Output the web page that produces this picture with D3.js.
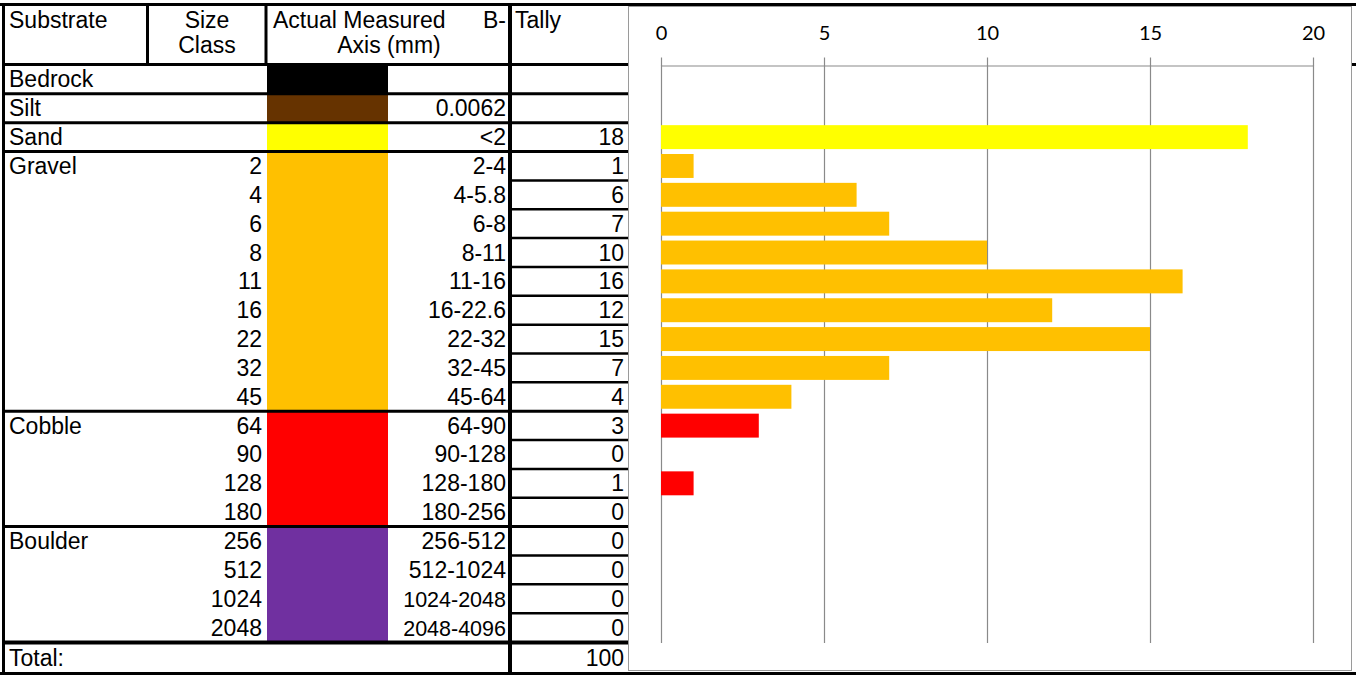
<!DOCTYPE html>
<html>
<head>
<meta charset="utf-8">
<script src="https://cdn.jsdelivr.net/npm/d3@7"></script>
<style>
  html, body { margin: 0; padding: 0; background: #fff; }
  svg { display: block; }
  .cell { font-family: "Liberation Sans", Arial, sans-serif; font-size: 23px; fill: #000; }
  .tick text { font-family: Lato, "Open Sans", sans-serif; font-size: 20px; fill: #000; }
</style>
</head>
<body>
<svg id="chart" width="1356" height="675"></svg>
<script>
// Pebble count: substrate classes, size classes, measured B-axis ranges and tallies
const substrateNames = ["Bedrock", "Silt", "Sand", "Gravel", "Cobble", "Boulder"];
const substrateColors = ["#000000", "#663300", "#FFFF00", "#FFC000", "#FF0000", "#7030A0"];
const substrateRowCounts = [1, 1, 1, 9, 4, 4];

const sizeClasses = ["", "", "", "2", "4", "6", "8", "11", "16", "22", "32", "45",
                     "64", "90", "128", "180", "256", "512", "1024", "2048"];
const bAxisRanges = ["", "0.0062", "<2", "2-4", "4-5.8", "6-8", "8-11", "11-16", "16-22.6",
                     "22-32", "32-45", "45-64", "64-90", "90-128", "128-180", "180-256",
                     "256-512", "512-1024", "1024-2048", "2048-4096"];
const tallies = [null, null, 18, 1, 6, 7, 10, 16, 12, 15, 7, 4, 3, 0, 1, 0, 0, 0, 0, 0];
const totalTally = 100;
const axisTicks = [0, 5, 10, 15, 20];

// Expand substrate groups to one entry per row
const rowGroup = [];
substrateRowCounts.forEach((n, g) => { for (let i = 0; i < n; i++) rowGroup.push(g); });
const rowIds = bAxisRanges.map((r, i) => "row" + i);
const rows = rowIds.map((id, i) => ({
  id, group: rowGroup[i], size: sizeClasses[i], range: bAxisRanges[i], tally: tallies[i],
  first: i === 0 || rowGroup[i - 1] !== rowGroup[i]
}));

const svg = d3.select("#chart");

// Column edges of the table
const col = { left: 3.5, size: 147.5, swatch: 267, actual: 388, tally: 510, end: 628 };
const tableTop = 4.5, headerBottom = 64.5, tableBottom = 673.5;

const rowY = d3.scaleBand().domain(rowIds).range([65, 642]).padding(0);
const barY = rowY.copy().paddingInner(0.17).paddingOuter(0.085);
const x = d3.scaleLinear().domain([0, 20]).range([661, 1313]);

const tableG = svg.append("g");

// Colour swatches per substrate group
substrateNames.forEach((name, g) => {
  const gr = rows.filter(r => r.group === g);
  const y0 = rowY(gr[0].id), y1 = rowY(gr[gr.length - 1].id) + rowY.bandwidth();
  tableG.append("rect")
    .attr("x", col.swatch).attr("y", y0)
    .attr("width", col.actual - col.swatch).attr("height", y1 - y0)
    .attr("fill", substrateColors[g]);
});

// Grid lines of the table
const hLine = (y, x1, x2, w) => tableG.append("line")
  .attr("x1", x1).attr("x2", x2).attr("y1", y).attr("y2", y)
  .attr("stroke", "#000").attr("stroke-width", w);
const vLine = (xx, y1, y2, w) => tableG.append("line")
  .attr("x1", xx).attr("x2", xx).attr("y1", y1).attr("y2", y2)
  .attr("stroke", "#000").attr("stroke-width", w);

hLine(tableTop, 0, 1356, 3);
hLine(headerBottom, 2, 1356, 3);
rows.forEach((r, i) => {
  if (i === 0) return;
  const y = rowY(r.id);
  if (r.first) hLine(y, 2, col.end, 3);
  else hLine(y, col.tally, col.end, 2.5);
});
const totalTop = 642.5;
hLine(totalTop, 2, col.end, 4);
hLine(tableBottom, 0, 1356, 3);
vLine(col.left, 3, 675, 3);
vLine(col.size, tableTop, headerBottom, 3);
vLine(col.swatch - 1, tableTop, headerBottom, 3);
vLine(col.tally, 3, 675, 4);

// Header text
const text = (t, xx, y, anchor, size) => tableG.append("text")
  .attr("class", "cell").attr("x", xx).attr("y", y)
  .attr("text-anchor", anchor || "start")
  .style("font-size", size ? size + "px" : null)
  .text(t);

text("Substrate", 9, 28);
text("Size", 207, 28, "middle");
text("Class", 207, 53, "middle");
text("Actual Measured", 273, 28);
text("B-", 506, 28, "end");
text("Axis (mm)", 389, 53, "middle");
text("Tally", 515, 28);

// Body text
rows.forEach((r, i) => {
  const yb = rowY(r.id) + rowY.bandwidth() / 2 + 8;
  if (r.first) text(substrateNames[r.group], 9, yb);
  if (r.size) text(r.size, 262, yb, "end");
  if (r.range) text(r.range, 506, yb, "end", r.range.length > 8 ? 21.5 : null);
  if (r.tally !== null) text(r.tally, 624, yb, "end");
});
text("Total:", 9, 666);
text(totalTally, 624, 666, "end");

// Chart panel
const chartG = svg.append("g");
chartG.append("rect")
  .attr("x", 628.5).attr("y", 6.5).attr("width", 723).attr("height", 664)
  .attr("fill", "#fff").attr("stroke", "#9a9a9a").attr("stroke-width", 1);

// Vertical gridlines
chartG.selectAll("line.grid").data(axisTicks).join("line")
  .attr("class", "grid")
  .attr("x1", d => Math.round(x(d)) + 0.5).attr("x2", d => Math.round(x(d)) + 0.5)
  .attr("y1", 65).attr("y2", 643)
  .attr("stroke", "#8a8a8a").attr("stroke-width", 1.2);

// Bars
chartG.selectAll("rect.bar").data(rows.filter(r => r.tally !== null)).join("rect")
  .attr("class", "bar")
  .attr("x", x(0))
  .attr("y", d => barY(d.id))
  .attr("width", d => x(d.tally) - x(0))
  .attr("height", barY.bandwidth())
  .attr("fill", d => substrateColors[d.group]);

// Top axis
const axis = d3.axisTop(x).tickValues(axisTicks).tickSize(8).tickSizeOuter(0).tickPadding(18);
const axisG = chartG.append("g").attr("transform", "translate(0,65.5)").call(axis);
axisG.select(".domain").attr("stroke", "#8a8a8a").attr("stroke-width", 1.2);
axisG.selectAll(".tick line").attr("stroke", "#8a8a8a").attr("stroke-width", 1.2);
</script>
</body>
</html>
